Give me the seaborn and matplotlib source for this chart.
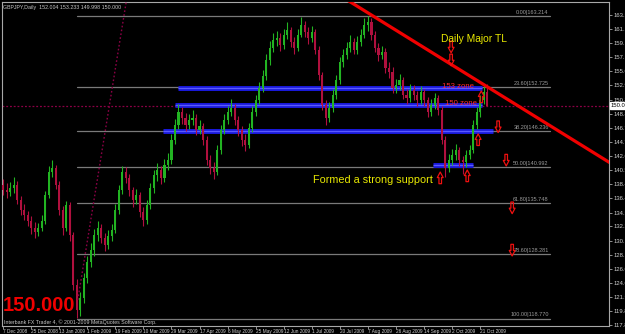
import matplotlib
matplotlib.use("Agg")
import matplotlib.pyplot as plt
from matplotlib.path import Path
import seaborn as sns
import pandas as pd
import numpy as np

# ---------------- data (2-day bars, GBPJPY daily chart) ----------------
first_open = 138.3
closes = [137.6, 137.3, 137.9, 138.4, 136.2, 134.7, 134.0, 133.0, 132.1, 131.5,
          132.1, 133.0, 136.9, 140.3, 140.9, 138.4, 134.7, 132.1, 135.4, 131.0,
          123.7, 120.0, 121.8, 124.7, 127.1, 128.8, 131.0, 132.1, 130.6, 129.6,
          130.9, 131.8, 134.7, 137.6, 140.3, 139.4, 137.6, 136.2, 136.9, 134.4,
          133.2, 135.4, 137.9, 139.8, 140.6, 139.4, 141.3, 142.0, 145.0, 147.2,
          149.1, 148.2, 147.2, 147.9, 148.2, 146.4, 147.0, 145.0, 142.0, 140.9,
          140.3, 143.5, 146.4, 147.9, 149.1, 149.7, 147.9, 146.4, 145.0, 144.2,
          146.7, 149.1, 150.8, 152.6, 154.4, 156.7, 158.5, 159.6, 159.9, 158.9,
          160.4, 161.1, 159.3, 158.5, 160.4, 161.8, 160.8, 159.9, 160.8, 158.2,
          154.5, 150.1, 148.2, 149.7, 151.6, 153.8, 156.4, 157.4, 158.5, 159.3,
          158.2, 159.3, 160.4, 161.8, 162.3, 160.4, 158.5, 157.4, 157.9, 155.5,
          155.0, 152.6, 153.0, 153.8, 151.6, 151.1, 152.3, 151.6, 150.8, 152.0,
          150.8, 149.1, 150.1, 151.1, 149.4, 145.0, 140.9, 142.0, 142.8, 143.5,
          142.0, 141.7, 142.8, 143.5, 147.2, 149.1, 150.8, 152.004, 150.000]
highs = [139.2, 138.6, 138.8, 139.5, 138.9, 136.8, 135.6, 134.6, 133.8, 132.9,
         132.8, 133.9, 137.5, 141.2, 142.0, 141.3, 138.9, 135.3, 136.0, 135.8,
         131.4, 124.5, 122.6, 125.4, 127.9, 129.8, 131.9, 133.1, 132.7, 131.3,
         131.7, 132.6, 135.5, 138.3, 141.2, 141.0, 140.0, 138.1, 137.8, 137.3,
         135.1, 136.1, 138.6, 140.5, 141.6, 141.2, 142.1, 143.0, 145.8, 148.0,
         150.2, 149.8, 148.9, 148.8, 149.4, 148.7, 147.9, 147.5, 145.5, 142.8,
         141.7, 144.2, 147.1, 148.7, 150.0, 150.9, 150.3, 148.5, 147.0, 145.9,
         147.5, 149.9, 151.6, 153.4, 155.2, 157.6, 159.5, 160.7, 161.0, 160.6,
         161.3, 162.3, 161.6, 160.0, 161.2, 163.0, 162.4, 161.5, 161.7, 161.2,
         158.7, 155.0, 150.8, 150.6, 152.4, 154.5, 157.2, 158.3, 159.4, 160.3,
         159.9, 160.2, 161.3, 162.8, 163.2, 162.8, 161.0, 159.2, 158.8, 158.4,
         156.4, 155.6, 153.9, 154.7, 154.2, 152.4, 153.1, 153.0, 152.2, 152.9,
         152.5, 151.3, 151.0, 151.9, 151.6, 149.9, 145.5, 142.9, 143.6, 144.3,
         144.0, 142.6, 143.5, 144.2, 147.9, 149.8, 151.6, 153.0, 153.233]
lows = [136.9, 136.5, 136.8, 137.2, 135.6, 133.9, 133.2, 132.3, 131.2, 130.6,
        130.9, 131.6, 132.6, 136.4, 139.5, 137.8, 134.0, 131.0, 131.6, 130.2,
        122.9, 118.8, 119.2, 121.0, 124.0, 126.3, 128.0, 130.2, 129.8, 128.7,
        129.0, 130.1, 131.3, 134.1, 137.0, 138.6, 136.8, 135.2, 135.6, 133.6,
        132.4, 132.7, 134.9, 137.2, 139.0, 138.5, 138.8, 140.6, 141.5, 144.4,
        146.6, 147.3, 146.3, 146.6, 147.1, 145.7, 145.8, 144.2, 141.3, 140.0,
        139.2, 139.8, 142.9, 145.8, 147.3, 148.5, 147.2, 145.6, 144.1, 143.3,
        143.8, 146.2, 148.5, 150.2, 152.0, 153.8, 156.0, 157.8, 158.7, 158.0,
        158.3, 159.8, 158.6, 157.6, 158.0, 160.0, 160.0, 159.0, 159.3, 157.5,
        153.8, 149.3, 147.2, 147.6, 149.1, 151.0, 153.2, 155.7, 156.8, 157.9,
        157.5, 157.6, 158.7, 159.9, 161.0, 159.6, 157.8, 156.6, 156.8, 154.8,
        154.1, 151.8, 151.9, 152.3, 150.9, 150.2, 150.5, 150.8, 149.9, 150.2,
        150.0, 148.3, 148.5, 149.5, 148.6, 144.3, 139.6, 140.3, 141.3, 142.0,
        141.2, 139.9, 141.0, 142.1, 143.0, 146.5, 148.4, 150.2, 149.998]

date_labels = ["7 Dec 2008", "25 Dec 2008", "13 Jan 2009", "1 Feb 2009", "19 Feb 2009",
               "10 Mar 2009", "29 Mar 2009", "17 Apr 2009", "6 May 2009", "25 May 2009",
               "12 Jun 2009", "1 Jul 2009", "20 Jul 2009", "7 Aug 2009", "26 Aug 2009",
               "14 Sep 2009", "2 Oct 2009", "21 Oct 2009"]
date_bars = [0, 8, 16, 24, 32, 40, 48, 56, 64, 72, 80, 88, 96, 104, 112, 120, 128, 136]

price_ticks = [163.300, 161.200, 159.160, 157.120, 155.020, 152.980, 150.880, 148.840,
               146.740, 144.700, 142.600, 140.560, 138.460, 136.420, 134.320, 132.280,
               130.180, 128.140, 126.040, 124.000, 121.960, 119.860, 117.820]

fib_pct = ["0.00", "23.60", "38.20", "50.00", "61.80", "78.60", "100.00"]
fib_high = 163.214
fib_low = 118.770
fib_start_bar = 21
fib_end_bar = 156

# trend lines: (bar, price) anchors
major_tl = [(99.0, 165.2), (172.7, 141.7)]
up_tl = [(21.3, 121.5), (34.4, 163.0)]

# zone bands: (start bar, end bar, price)
bands = [(49.8, 136.6, 152.59), (48.9, 136.6, 150.10), (45.5, 139.7, 146.28), (122.6, 134.0, 141.30)]

# arrows: (bar, price, kind)
arrows = [(127.7, 158.6, "down"), (127.7, 156.7, "down"), (136.3, 151.3, "up"),
          (141.1, 146.9, "down"), (135.4, 145.0, "up"), (143.4, 142.0, "down"),
          (124.6, 139.4, "up"), (132.3, 139.7, "up"), (145.1, 135.0, "down"),
          (145.1, 128.8, "down")]

last_price = 150.000

# ---------------- figure ----------------
sns.set_style("dark")
plt.rcParams['font.family'] = ['Liberation Sans', 'DejaVu Sans']

fig = plt.figure(figsize=(6.25, 3.34), dpi=100, facecolor="black")
ax = fig.add_axes([2 / 625, 8 / 334, 607 / 625, 324 / 334])
ax.set_facecolor("black")

XMIN, XMAX = -0.3, 172.7
YMIN, YMAX = 117.67, 165.2

opens = [first_open] + closes[:-1]
df = pd.DataFrame({"bar": np.arange(len(closes)), "open": opens, "close": closes,
                   "high": highs, "low": lows})
df["up"] = df["close"] >= df["open"]
bull, bear = "#22B422", "#B0103E"
colors = np.where(df["up"], bull, bear)

# fib lines
fib_rows = []
for pct in fib_pct:
    lvl = fib_high - float(pct) / 100 * (fib_high - fib_low)
    fib_rows.append({"bar": fib_start_bar, "price": lvl, "lvl": pct})
    fib_rows.append({"bar": fib_end_bar, "price": lvl, "lvl": pct})
    ax.text(fib_end_bar - 0.5, lvl + 0.15, f"{pct}|{lvl:.3f}", color="#9a9a9a",
            fontsize=4.0, ha="right", va="bottom")
fib_df = pd.DataFrame(fib_rows)
sns.lineplot(data=fib_df, x="bar", y="price", units="lvl", estimator=None,
             color="#7a7a7a", lw=0.9, ax=ax, legend=False)

# current price dotted line
ax.axhline(last_price, color="#8c0046", lw=0.9, ls=(0, (1.5, 1.5)))

# bands
for b0, b1, p in bands:
    ax.plot([b0, b1], [p, p], color="#1818D8", lw=3.6, solid_capstyle="butt", zorder=3)
    ax.plot([b0, b1], [p, p], color="#5A5AFF", lw=1.0, solid_capstyle="butt", zorder=3)

# candles
ax.vlines(df["bar"], df["low"], df["high"], colors=colors, lw=0.8, zorder=4)
body_bottom = np.minimum(df["open"], df["close"])
body_h = np.maximum(np.abs(df["close"] - df["open"]), 0.08)
ax.bar(df["bar"], body_h, bottom=body_bottom, width=0.6, color=colors, lw=0, zorder=5)

# trend lines
(x0, y0), (x1, y1) = major_tl
slope = (y1 - y0) / (x1 - x0)
tl_df = pd.DataFrame({"bar": [x0 - 10, x1 + 10], "price": [y0 - 10 * slope, y1 + 10 * slope]})
sns.lineplot(data=tl_df, x="bar", y="price", color="#F00000", lw=2.3, ax=ax, zorder=6)

(u0, v0), (u1, v1) = up_tl
s2 = (v1 - v0) / (u1 - u0)
up_df = pd.DataFrame({"bar": [u0, u1 + 3], "price": [v0, v1 + 3 * s2]})
sns.lineplot(data=up_df, x="bar", y="price", color="#8c0046", lw=1.0, ax=ax,
             linestyle=(0, (1.2, 1.6)), zorder=6)

# hollow arrows
up_arrow = Path([(-0.22, -1.0), (0.22, -1.0), (0.22, 0.05), (0.5, 0.05), (0.0, 1.0),
                 (-0.5, 0.05), (-0.22, 0.05), (-0.22, -1.0)], closed=True)
down_arrow = Path([(x, -y) for x, y in up_arrow.vertices], closed=True)
arr_df = pd.DataFrame(arrows, columns=["bar", "price", "kind"])
for kind, mk in (("up", up_arrow), ("down", down_arrow)):
    sub = arr_df[arr_df["kind"] == kind]
    ax.scatter(sub["bar"], sub["price"], marker=mk, s=70, facecolors="none",
               edgecolors="#F01010", linewidths=0.9, zorder=7)

# texts
ax.text(124.7, 159.8, "Daily Major TL", color="#E8E800", fontsize=7.4, ha="left", va="center", zorder=8)
ax.text(88.3, 139.1, "Formed a strong support", color="#E8E800", fontsize=7.8, ha="left", va="center", zorder=8)
ax.text(125.2, 152.75, "153 zone", color="#FF2A2A", fontsize=5.6, ha="left", va="center", zorder=8)
ax.text(126.0, 150.3, "150 zone", color="#FF2A2A", fontsize=5.6, ha="left", va="center", zorder=8)

ax.text(0.002, 0.062, "150.000", transform=ax.transAxes, color="#F00000", fontsize=14.5,
        fontweight="bold", ha="left", va="center", zorder=8)
ax.text(0.003, 0.012, "Interbank FX Trader 4, © 2001-2009 MetaQuotes Software Corp.",
        transform=ax.transAxes, color="#c8c8c8", fontsize=3.8, ha="left", va="center")
ax.text(0.002, 0.99, "GBPJPY,Daily  152.004 153.233 149.998 150.000", transform=ax.transAxes,
        color="#c8c8c8", fontsize=3.8, ha="left", va="top")

# axes
ax.set_xlim(XMIN, XMAX)
ax.set_ylim(YMIN, YMAX)
ax.set_xlabel("")
ax.set_ylabel("")
for s in ax.spines.values():
    s.set_color("#a8a8a8")
    s.set_linewidth(0.8)
    s.set_visible(True)
ax.yaxis.tick_right()
ax.set_yticks(price_ticks)
ax.set_yticklabels([f"{t:.3f}" for t in price_ticks])
ax.set_xticks(date_bars)
ax.set_xticklabels(date_labels)
ax.tick_params(axis="y", colors="#a8a8a8", labelcolor="#d0d0d0", labelsize=4.2,
               length=2, width=0.6, pad=1, right=True, left=False)
ax.tick_params(axis="x", colors="#a8a8a8", labelcolor="#d0d0d0", labelsize=3.4,
               length=2, width=0.6, pad=0.3, bottom=True)
for lab in ax.get_xticklabels():
    lab.set_horizontalalignment("left")
ax.grid(False)

# current price box on the axis
ax.text(1.003, (last_price - YMIN) / (YMAX - YMIN), f"{last_price:.3f}", transform=ax.transAxes,
        color="black", fontsize=4.2, ha="left", va="center",
        bbox=dict(boxstyle="square,pad=0.15", fc="white", ec="white"), clip_on=False)

fig.savefig("out.png", dpi=100, facecolor="black")
